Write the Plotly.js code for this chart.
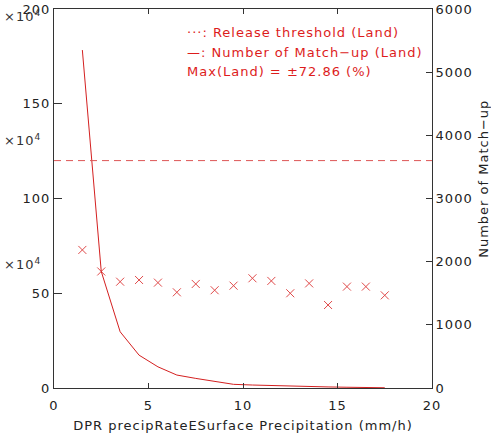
<!DOCTYPE html>
<html><head><meta charset="utf-8">
<script src="https://cdn.plot.ly/plotly-3.0.1.min.js"></script>
<style>body{margin:0;background:#fff}#c{width:491px;height:433px}svg text{letter-spacing:1px}</style>
</head><body><div id="c"></div>
<script>
// precipitation bin centres (mm/h)
var binCenters = [1.5,2.5,3.5,4.5,5.5,6.5,7.5,8.5,9.5,10.5,11.5,12.5,13.5,14.5,15.5,16.5,17.5];
// max relative difference (%) per bin (left axis)
var maxDiff = [72.86,61.5,56.1,57.0,55.6,50.5,54.9,51.6,54.0,57.9,56.5,50.0,55.2,43.8,53.5,53.5,48.9];
// number of match-ups per bin (right axis)
var matchups = [5350,1845,890,520,335,205,152,110,58,47,37,27,22,17,12,7,4];
var threshold = 120;
var xTicks = [0,5,10,15,20];
var yTicks = [0,50,100,150,200];
var y2Ticks = [0,1000,2000,3000,4000,5000,6000];

var red = '#dd1c1c';
var fontF = 'DejaVu Sans, sans-serif';

var traces = [
  {x: binCenters, y: matchups, yaxis: 'y2', type: 'scatter', mode: 'lines',
   line: {color: '#d42020', width: 1}, hoverinfo: 'skip'},
  {x: binCenters, y: maxDiff, type: 'scatter', mode: 'markers',
   marker: {symbol: 'x-thin', size: 8, line: {color: '#e04a4a', width: 1}}, hoverinfo: 'skip'}
];

var axisCommon = {ticks: 'inside', showline: true, linecolor: '#333', linewidth: 1,
  tickcolor: '#333', showgrid: false, zeroline: false,
  tickfont: {family: fontF, size: 13, color: '#222'}};

var layout = {
  width: 491, height: 433,
  margin: {l: 54, r: 59, t: 9, b: 45},
  paper_bgcolor: '#fff', plot_bgcolor: '#fff',
  showlegend: false,
  xaxis: Object.assign({}, axisCommon, {range: [0, 20], tickvals: xTicks, ticklen: 5,
    mirror: 'ticks', ticklabelstandoff: 5,
    title: {text: 'DPR precipRateESurface Precipitation (mm/h)', standoff: 10,
      font: {family: fontF, size: 13, color: '#222'}}}),
  yaxis: Object.assign({}, axisCommon, {range: [0, 200], tickvals: yTicks, ticklen: 8}),
  yaxis2: Object.assign({}, axisCommon, {range: [0, 6000], tickvals: y2Ticks, ticklen: 6,
    overlaying: 'y', side: 'right'}),
  shapes: [{type: 'line', xref: 'paper', x0: 0, x1: 1, yref: 'y', y0: threshold, y1: threshold,
    line: {color: '#dd5555', width: 1, dash: '7px,5px'}}],
  annotations: [
    {xref: 'paper', yref: 'paper', x: 0.3457, y: 0.937, xanchor: 'left', yanchor: 'middle', showarrow: false,
     text: '\u00b7\u00b7\u00b7: Release threshold (Land)', font: {family: fontF, size: 13, color: red}},
    {xref: 'paper', yref: 'paper', x: 0.3457, y: 0.884, xanchor: 'left', yanchor: 'middle', showarrow: false,
     text: '\u2014: Number of Match\u2212up (Land)', font: {family: fontF, size: 13, color: red}},
    {xref: 'paper', yref: 'paper', x: 0.3457, y: 0.834, xanchor: 'left', yanchor: 'middle', showarrow: false,
     text: 'Max(Land) = \u00b172.86 (%)', font: {family: fontF, size: 13, color: red}},
    {xref: 'paper', yref: 'paper', x: 1.1375, y: 0.552, xanchor: 'center', yanchor: 'middle', showarrow: false,
     textangle: -90, text: 'Number of Match\u2212up', font: {family: fontF, size: 13, color: '#222'}},
    {xref: 'paper', yref: 'paper', x: -0.137, y: 0.982, xanchor: 'left', yanchor: 'middle', showarrow: false,
     text: '\u00d710<sup>4</sup>', font: {family: fontF, size: 13, color: '#333'}},
    {xref: 'paper', yref: 'paper', x: -0.137, y: 0.655, xanchor: 'left', yanchor: 'middle', showarrow: false,
     text: '\u00d710<sup>4</sup>', font: {family: fontF, size: 13, color: '#333'}},
    {xref: 'paper', yref: 'paper', x: -0.137, y: 0.327, xanchor: 'left', yanchor: 'middle', showarrow: false,
     text: '\u00d710<sup>4</sup>', font: {family: fontF, size: 13, color: '#333'}}
  ]
};
Plotly.newPlot('c', traces, layout, {staticPlot: true, displayModeBar: false});
</script></body></html>
